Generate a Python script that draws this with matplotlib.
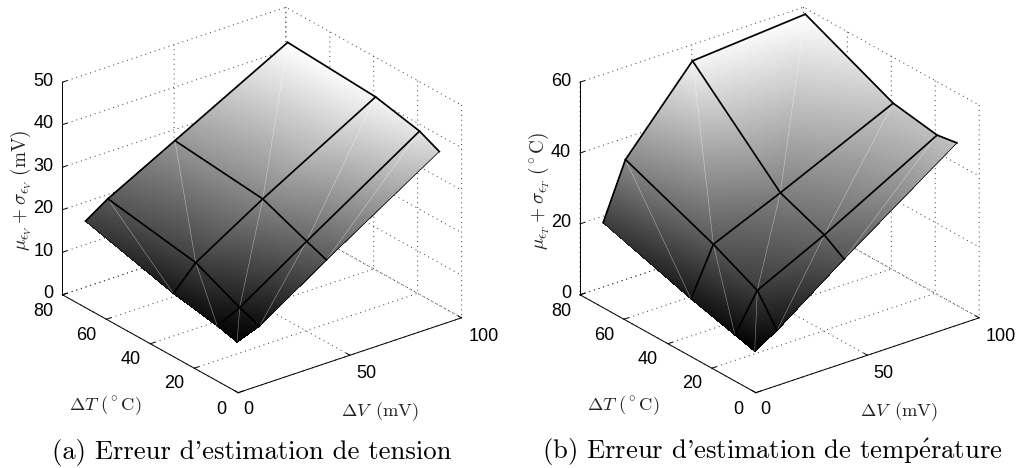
import numpy as np
import matplotlib
matplotlib.use("Agg")
from matplotlib import pyplot as plt
from matplotlib import tri
from mpl_toolkits.mplot3d import proj3d

plt.rcParams["font.family"] = ["Liberation Sans", "DejaVu Sans"]
plt.rcParams["mathtext.fontset"] = "cm"
plt.rcParams["axes.unicode_minus"] = False

# grid nodes shared by both surfaces
delta_v = [0.5, 10.5, 40.5, 91]
delta_t = [1, 10, 30, 70]

# one row per delta_t, one column per delta_v
error_voltage = [
    [11.5, 13.5, 23.8, 40.4],
    [12.7, 15.3, 25.6, 42.6],
    [14.6, 20.1, 29.8, 44.9],
    [20.1, 23.6, 32.0, 46.2],
]
error_temperature = [
    [11.2, 15.0, 28.8, 50.9],
    [12.7, 23.2, 32.5, 50.0],
    [16.0, 29.3, 37.5, 52.1],
    [23.7, 39.4, 60.9, 63.4],
]

v_ticks = [0, 50, 100]
t_ticks = [0, 20, 40, 60, 80]
z_ticks_voltage = [0, 10, 20, 30, 40, 50]
z_ticks_temperature = [0, 20, 40, 60]

W, H = 1020, 468


def draw_surface(ax, z_values):
    v_grid, t_grid = np.meshgrid(delta_v, delta_t)
    z_grid = np.array(z_values)
    n_v, n_t = len(delta_v), len(delta_t)

    triangles = []
    for j in range(n_t - 1):
        for i in range(n_v - 1):
            a = j * n_v + i
            b = a + 1
            c = a + n_v
            d = c + 1
            triangles.append([a, b, d])
            triangles.append([a, d, c])

    mesh = tri.Triangulation(v_grid.ravel(), t_grid.ravel(), triangles)
    # only to get the smooth shading of the facets
    fine_mesh, fine_z = tri.UniformTriRefiner(mesh).refine_field(
        z_grid.ravel(), tri.LinearTriInterpolator(mesh, z_grid.ravel()), subdiv=5)
    ax.plot_trisurf(fine_mesh, fine_z, cmap="gray", vmin=z_grid.min(), vmax=z_grid.max(),
                    shade=False, linewidth=0, antialiased=False, zorder=2)

    # white seams between the two triangles of a facet
    for j in range(n_t - 1):
        for i in range(n_v - 1):
            ax.plot([v_grid[j, i], v_grid[j + 1, i + 1]], [t_grid[j, i], t_grid[j + 1, i + 1]],
                    [z_grid[j, i], z_grid[j + 1, i + 1]], color="white", lw=0.4, alpha=0.5, zorder=3)

    # black mesh
    for j in range(n_t):
        lw = 0.5 if j == 0 else 1.25
        ax.plot(v_grid[j], t_grid[j], z_grid[j], color="black", lw=lw, zorder=4)
    for i in range(n_v):
        lw = 0.3 if i == 0 else 1.25
        ax.plot(v_grid[:, i], t_grid[:, i], z_grid[:, i], color="black", lw=lw, zorder=4)


def tick_text(ax, x, y, z, value, dx, dy, ha="center"):
    # mplot3d cannot place the labels this close, so they are put by hand next to each tick
    px, py, _ = proj3d.proj_transform(x, y, z, ax.get_proj())
    ax.annotate(str(value), (px, py), xytext=(dx, -dy), textcoords="offset pixels",
                ha=ha, va="center", fontsize=13, annotation_clip=False)


def setup_axes(ax, z_max, z_ticks):
    ax.set_proj_type("ortho")
    ax.computed_zorder = False
    ax.view_init(elev=25.6, azim=-127.8)
    ax.set_box_aspect((283, 287, 236))
    ax.set_xlim(0, 100)
    ax.set_ylim(0, 80)
    ax.set_zlim(0, z_max)
    ax.set_xticks(v_ticks)
    ax.set_yticks(t_ticks)
    ax.set_zticks(z_ticks)
    ax.patch.set_alpha(0)
    for axis in (ax.xaxis, ax.yaxis, ax.zaxis):
        axis.set_pane_color((1, 1, 1, 0))
        axis.pane.set_edgecolor("none")
        axis.line.set_linewidth(0.7)
        axis._axinfo["grid"].update(color="#333333", linewidth=0.7, linestyle=(0, (1, 4)))
        axis._axinfo["tick"].update(inward_factor=0.0, outward_factor=0.25)
        axis._axinfo["tick"]["linewidth"] = {True: 0.7, False: 0.5}
    ax.set_xticklabels([])
    ax.set_yticklabels([])
    ax.set_zticklabels([])

    for v, dx, dy in zip(v_ticks, [10, 16, 22], [16.5, 18, 19]):
        tick_text(ax, v, 0, 0, v, dx, dy)
    for t, dx, dy in zip(t_ticks, [-17, -20, -20, -20, -19], [16.5, 15, 15.5, 16, 16.5]):
        tick_text(ax, 0, t, 0, t, dx, dy)
    for z in z_ticks:
        tick_text(ax, 0, 80, z, z, -9, -1, ha="right")


fig = plt.figure(figsize=(W / 100, H / 100), dpi=100)

ax1 = fig.add_axes([29.4 / W, 35.4 / H, 453 / W, 453 / H], projection="3d")
setup_axes(ax1, 50, z_ticks_voltage)
draw_surface(ax1, error_voltage)

ax2 = fig.add_axes([547 / W, 35.4 / H, 453 / W, 453 / H], projection="3d")
setup_axes(ax2, 60, z_ticks_temperature)
draw_surface(ax2, error_temperature)


def label(x, y, text, size=13.3, **kwargs):
    fig.text(x / W, 1 - y / H, text, ha="center", va="center", fontsize=size,
             color="#222222", family="cmr10", **kwargs)


label(105, 406, r"$\Delta T\ (^\circ\mathrm{C})$")
label(380, 412, r"$\Delta V\ \,(\mathrm{mV})$")
label(21, 190, r"$\mu_{\epsilon_V}+\sigma_{\epsilon_V}\ (\mathrm{mV})$", size=13.8, rotation=90)
label(623, 406, r"$\Delta T\ (^\circ\mathrm{C})$")
label(899, 412, r"$\Delta V\ \,(\mathrm{mV})$")
label(539, 191, r"$\mu_{\epsilon_T}+\sigma_{\epsilon_T}\ (^\circ\mathrm{C})$", size=13.8, rotation=90)

for x, text in [(252, "(a) Erreur d'estimation de tension"),
                (772.5, r"(b) Erreur d'estimation de temp$\mathrm{\'{e}}$rature")]:
    fig.text(x / W, 1 - 452 / H, text, ha="center", va="center", fontsize=19.2, family="cmr10")

fig.savefig("out.png", dpi=100)
